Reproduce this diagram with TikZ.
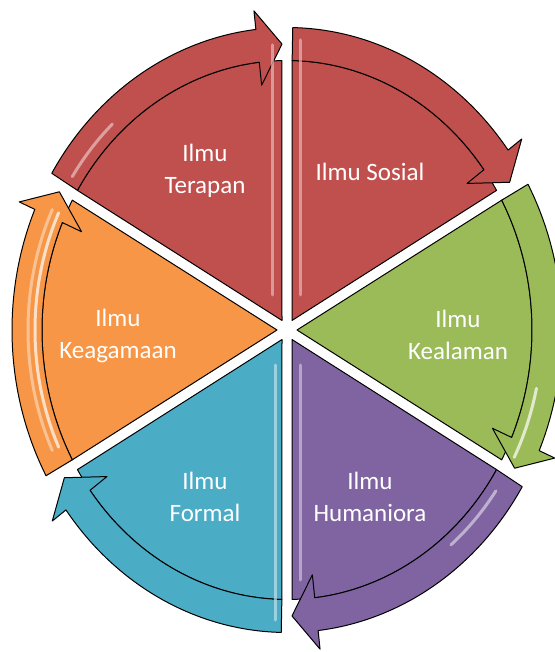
\documentclass[tikz,border=0pt]{standalone}
\usepackage{fontspec}
\setmainfont{Carlito}
\usepackage{tikz}
\definecolor{terapanRed}{HTML}{C0504D}
\definecolor{alamGreen}{HTML}{9BBB59}
\definecolor{humPurple}{HTML}{8064A2}
\definecolor{formalCyan}{HTML}{4BACC6}
\definecolor{agamaOrange}{HTML}{F79646}
\newcommand{\rIn}{245pt}
\newcommand{\rOut}{275pt}
% one slice with its arrow band, from angle #1 clockwise to #1-60
\newcommand{\Segment}[2]{%
  \path[segment, fill = #2]
    ({#1-30}:10pt) -- ({#1-1.2}:\rIn)
    arc[start angle = #1-1.2, end angle = #1-58.8, radius = \rIn] -- cycle;
  \path[segment, fill = #2]
    ({#1-1.2}:\rIn) -- ({#1-1.2}:\rOut)
    arc[start angle = #1-1.2, end angle = #1-53.5, radius = \rOut]
    -- ({#1-53.5}:292pt) -- ({#1-58.9}:260pt) -- ({#1-53.5}:224pt)
    -- ({#1-53.5}:\rIn)
    arc[start angle = #1-53.5, end angle = #1-1.2, radius = \rIn] -- cycle;
}
% a light stripe along a band, from angle #1 to #2 at radius #3
\newcommand{\Shine}[4]{%
  \draw[gloss, #4] (#1:#3) arc[start angle = #1, end angle = #2, radius = #3];
}

\begin{document}
\begin{tikzpicture}[
    x = 1pt, y = 1pt,
    segment/.style =
    { draw       = black,
      line width = 1pt,
      line join  = round },
    gloss/.style =
    { line width = 3pt,
      opacity    = 0.7,
      line cap   = round },
    topic/.style =
    { text  = white,
      align = center,
      font  = \fontsize{25}{32}\selectfont }
  ]
  \useasboundingbox (-287,-322) rectangle (267,330);

  \begin{scope}[yscale = 1.1]
    \Segment{150}{terapanRed}
    \Segment{90}{terapanRed}
    \Segment{30}{alamGreen}
    \Segment{-30}{humPurple}
    \Segment{-90}{formalCyan}
    \Segment{-150}{agamaOrange}

    % highlights on the bands
    \Shine{147}{133}{256pt}{terapanRed!35!white}
    \Shine{-12}{-27}{255pt}{white}
    \Shine{-35}{-50}{255pt}{humPurple!30!white}
    \Shine{205}{155}{252pt}{white}
    \Shine{205}{155}{259pt}{agamaOrange!40!white}
  \end{scope}

  % light stripes along the vertical edges
  \draw[gloss, terapanRed!40!white] (-15,35) -- (-15,285);
  \draw[gloss, terapanRed!40!white] (13,35) -- (13,290);
  \draw[gloss, formalCyan!35!white] (-12,-35) -- (-12,-290);
  \draw[gloss, humPurple!40!white] (13,-35) -- (13,-250);

  \node[topic] (terapan)   at (-82,159)  {Ilmu\\Terapan};
  \node[topic] (sosial)    at (83,158)   {Ilmu Sosial};
  \node[topic] (kealaman)  at (171,-5)   {Ilmu\\Kealaman};
  \node[topic] (humaniora) at (83,-167)  {Ilmu\\Humaniora};
  \node[topic] (formal)    at (-82,-167) {Ilmu\\Formal};
  \node[topic] (keagamaan) at (-169,-6)  {Ilmu\\Keagamaan};
\end{tikzpicture}
\end{document}
